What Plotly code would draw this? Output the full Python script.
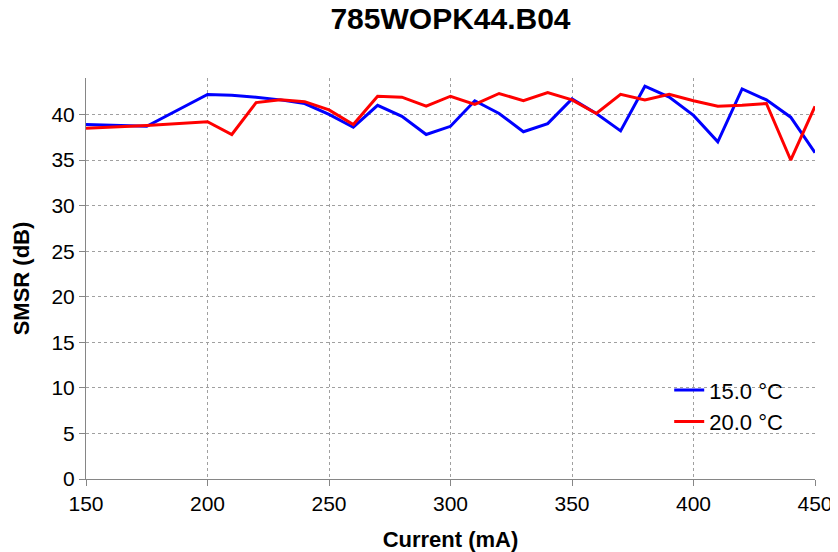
import plotly.graph_objects as go

# drive current (mA)
current = [150, 175, 200, 210, 220, 230, 240, 250, 260, 270, 280, 290, 300,
           310, 320, 330, 340, 350, 360, 370, 380, 390, 400, 410, 420, 430, 440, 450]

# SMSR (dB) per temperature
smsr_15 = [38.9, 38.7, 42.2, 42.1, 41.9, 41.6, 41.2, 40.0, 38.6, 41.0, 39.8, 37.8, 38.7,
           41.5, 40.1, 38.1, 39.0, 41.7, 40.1, 38.2, 43.1, 41.9, 39.9, 37.0, 42.8, 41.6, 39.7, 35.8]
smsr_20 = [38.5, 38.8, 39.2, 37.8, 41.3, 41.6, 41.4, 40.5, 38.9, 42.0, 41.9, 40.9, 42.0,
           41.1, 42.3, 41.5, 42.4, 41.6, 40.1, 42.2, 41.6, 42.2, 41.5, 40.9, 41.0, 41.2, 35.0, 40.9]

x_ticks = [150, 200, 250, 300, 350, 400, 450]
y_ticks = list(range(0, 41, 5))

font = "Liberation Sans, Arial, sans-serif"

fig = go.Figure()
fig.add_trace(go.Scatter(x=current, y=smsr_15, mode="lines", name="15.0 °C",
                         line=dict(color="#0000FF", width=3)))
fig.add_trace(go.Scatter(x=current, y=smsr_20, mode="lines", name="20.0 °C",
                         line=dict(color="#FF0000", width=3)))

axis_common = dict(
    showline=True, linecolor="#868686", linewidth=1,
    ticks="outside", ticklen=6, tickcolor="#868686",
    showgrid=True, gridcolor="#a0a0a0", griddash="dot", gridwidth=1,
    zeroline=False, automargin=False,
    tickfont=dict(size=21, color="#000000", family=font),
)

# page body adds an 8px margin, so the figure is offset by 8px
fig.update_layout(
    width=830, height=544,
    margin=dict(l=78, r=23, t=70, b=73),
    paper_bgcolor="white", plot_bgcolor="white",
    font=dict(family=font, color="#000000"),
    title=dict(text="<b>785WOPK44.B04</b>", xref="paper", x=0.5, xanchor="center",
               yref="container", y=1.0, yanchor="top",
               font=dict(size=30, family=font, color="#000000")),
    xaxis=dict(axis_common, range=[150, 450], tickvals=x_ticks,
               title=dict(text="<b>Current (mA)</b>", font=dict(size=22), standoff=17)),
    yaxis=dict(axis_common, range=[0, 44], tickvals=y_ticks,
               title=dict(text="<b>SMSR (dB)</b>", font=dict(size=22))),
    legend=dict(x=0.80, y=0.274, xanchor="left", yanchor="top",
                bgcolor="rgba(0,0,0,0)", font=dict(size=22, family=font)),
    showlegend=True,
)

fig.write_html("out.html")
